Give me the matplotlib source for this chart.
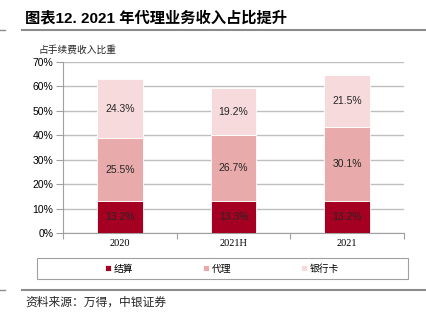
import matplotlib
matplotlib.use("Agg")
import matplotlib.pyplot as plt
from matplotlib.patches import Rectangle
from matplotlib.lines import Line2D
import numpy as np

plt.rcParams['font.family'] = ['Liberation Sans', 'Noto Sans CJK SC', 'DejaVu Sans']

categories = ["2020", "2021H", "2021"]
series_names = ["结算", "代理", "银行卡"]
settle = [13.2, 13.3, 13.2]
agency = [25.5, 26.7, 30.1]
card = [24.3, 19.2, 21.5]
colors = ["#A50021", "#E8AAAA", "#F7DADB"]
yticks = [0, 10, 20, 30, 40, 50, 60, 70]

W, H = 426, 322
fig = plt.figure(figsize=(W / 100, H / 100), dpi=100)

def fx(px):
    return px / W

def fy(py):
    return 1 - py / H

ax = fig.add_axes([fx(63), fy(233), fx(404) - fx(63), fy(62) - fy(233)])

x = np.arange(len(categories))
series = [settle, agency, card]
bottom = np.zeros(len(categories))
for vals, col, name in zip(series, colors, series_names):
    ax.bar(x, vals, width=0.4, bottom=bottom, color=col, label=name,
           edgecolor='white', linewidth=0.6, zorder=3)
    for xi, v, b in zip(x, vals, bottom):
        ax.text(xi, b + v / 2, f"{v:.1f}%", ha='center', va='center',
                fontsize=7.5, color='#262626', zorder=4,
                family=['Liberation Sans Narrow', 'Liberation Sans'])
    bottom = bottom + np.array(vals)

ax.set_xlim(-0.5, len(categories) - 0.5)
ax.set_ylim(0, 70)
ax.set_yticks(yticks)
ax.set_yticklabels([f"{t}%" for t in yticks], fontsize=7.5,
                   family=['Liberation Sans Narrow', 'Liberation Sans'])
ax.yaxis.grid(True, color='#BFBFBF', linewidth=1.0, zorder=0)
ax.set_axisbelow(True)

ax.set_xticks(x)
ax.set_xticklabels(categories, fontsize=7.5, family=['Liberation Serif'])
ax.tick_params(axis='x', length=0, pad=4)
ax.set_xticks(np.arange(len(categories) + 1) - 0.5, minor=True)
ax.tick_params(axis='x', which='minor', length=4, color='#A0A0A0', width=0.8)
ax.tick_params(axis='y', length=5, color='#A0A0A0', width=0.8, pad=2)

for s in ['top', 'right']:
    ax.spines[s].set_visible(False)
for s in ['left', 'bottom']:
    ax.spines[s].set_color('#A0A0A0')
    ax.spines[s].set_linewidth(0.8)

# Title
fig.text(fx(25), fy(18), "图表12. 2021 年代理业务收入占比提升", fontsize=11,
         fontweight='bold', va='center', ha='left',
         family=['Liberation Sans', 'Noto Sans CJK SC'])
fig.add_artist(Line2D([fx(22), fx(426)], [fy(30), fy(30)], color='#8C8C8C', linewidth=1.5))
fig.add_artist(Line2D([fx(0), fx(5)], [fy(30), fy(30)], color='#8C8C8C', linewidth=1.0))

# y label
fig.text(fx(38), fy(50), "占手续费收入比重", fontsize=7, va='center', ha='left',
         family=['Noto Sans CJK SC'], color='#262626')

# legend box
fig.add_artist(Rectangle((fx(37), fy(279)), fx(408) - fx(37), fy(258) - fy(279),
                         fill=False, edgecolor='#A0A0A0', linewidth=0.8,
                         transform=fig.transFigure))
handles, labels = ax.get_legend_handles_labels()
fig.legend(handles, labels, loc='center', bbox_to_anchor=(fx(222), fy(268.5)),
           ncol=3, frameon=False, handlelength=0.6, handleheight=0.6,
           handletextpad=0.3, columnspacing=7.2,
           prop={'family': ['Noto Sans CJK SC'], 'size': 7})

# source
fig.add_artist(Line2D([fx(22), fx(426)], [fy(290), fy(290)], color='#8C8C8C', linewidth=1.5))
fig.add_artist(Line2D([fx(0), fx(5)], [fy(290), fy(290)], color='#8C8C8C', linewidth=1.0))
fig.text(fx(25), fy(302), "资料来源：万得，中银证券", fontsize=8.5, va='center', ha='left',
         family=['Noto Sans CJK SC'], style='italic', color='#262626')

fig.savefig("out.png", dpi=100)
